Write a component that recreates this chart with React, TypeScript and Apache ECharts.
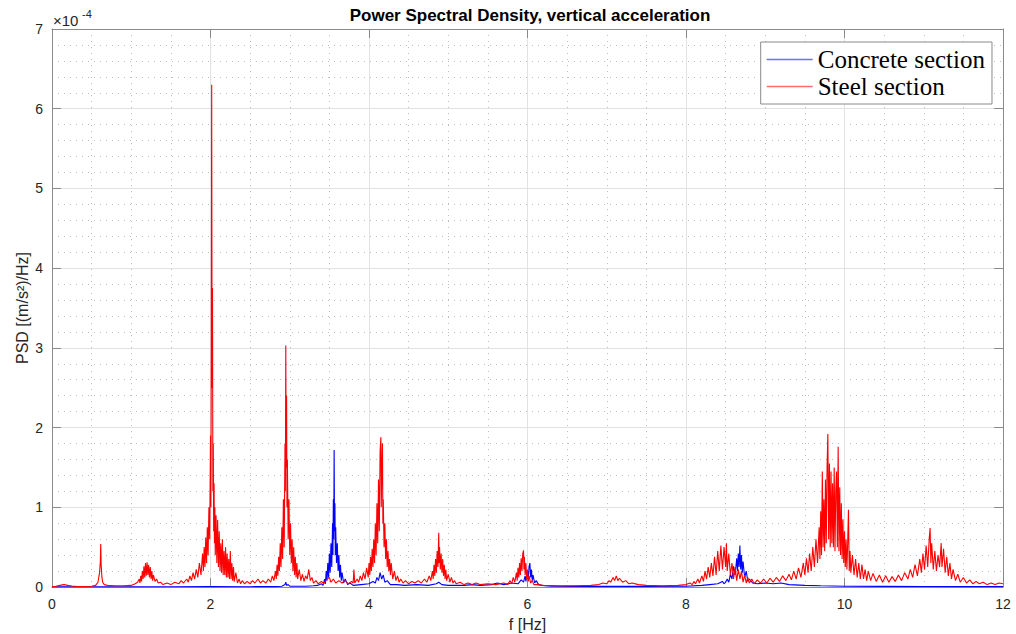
import React, { useEffect, useRef } from "react";
import * as echarts from "echarts";

// [frequency (Hz), PSD (x1e-4 (m/s^2)^2/Hz)]
const steelSpectrum: number[][] = [
  [0,0.005],[0.05,0.01],[0.1,0.02],[0.15,0.03],[0.2,0.02],[0.25,0.012],[0.3,0.008],[0.4,0.006],[0.5,0.01],[0.55,0.02],[0.58,0.06],[0.6,0.18],[0.61,0.32],[0.615,0.54],[0.62,0.28],[0.63,0.12],[0.64,0.06],[0.66,0.03],[0.7,0.02],[0.8,0.015],[0.9,0.015],[1.0,0.02],[1.05,0.04],[1.08,0.06],
  [1.1,0.1],[1.11,0.05],[1.12,0.14],[1.13,0.07],[1.14,0.2],[1.15,0.1],[1.16,0.26],[1.17,0.12],[1.18,0.3],[1.19,0.14],[1.2,0.31],[1.21,0.15],[1.22,0.28],[1.23,0.12],[1.24,0.25],[1.25,0.1],[1.26,0.2],[1.27,0.08],[1.28,0.15],[1.3,0.07],[1.32,0.1],[1.34,0.05],[1.37,0.06],[1.4,0.03],[1.45,0.05],[1.5,0.03],[1.55,0.06],[1.6,0.04],[1.63,0.08],[1.66,0.05],
  [1.7,0.1],[1.72,0.06],[1.74,0.14],[1.76,0.08],[1.78,0.18],[1.8,0.1],[1.82,0.22],[1.84,0.12],[1.86,0.3],[1.88,0.15],[1.9,0.42],[1.91,0.2],[1.92,0.5],[1.93,0.25],[1.94,0.62],[1.95,0.3],[1.96,0.75],[1.97,0.4],[1.98,1.0],[1.99,0.6],[2.0,1.9],[2.005,1.0],[2.01,3.0],[2.015,6.3],[2.02,2.5],[2.025,3.75],[2.03,1.2],[2.035,1.8],[2.04,0.7],[2.045,1.3],[2.05,0.55],[2.055,1.0],[2.06,0.4],[2.07,0.9],[2.08,0.3],[2.09,0.84],[2.1,0.25],[2.11,0.7],[2.12,0.2],[2.13,0.55],[2.14,0.18],[2.15,0.6],[2.16,0.15],[2.17,0.45],[2.18,0.15],[2.19,0.5],[2.2,0.12],[2.21,0.42],[2.22,0.12],[2.23,0.35],[2.24,0.1],[2.25,0.45],[2.26,0.1],[2.27,0.3],[2.28,0.08],[2.29,0.25],[2.3,0.07],[2.32,0.18],[2.34,0.05],[2.36,0.1],[2.38,0.04],[2.4,0.08],[2.43,0.04],[2.46,0.07],[2.5,0.04],[2.53,0.08],[2.56,0.05],[2.6,0.1],[2.63,0.05],[2.66,0.08],[2.7,0.05],[2.73,0.1],[2.76,0.06],
  [2.78,0.14],[2.8,0.08],[2.82,0.2],[2.83,0.1],[2.84,0.28],[2.85,0.14],[2.86,0.38],[2.87,0.2],[2.88,0.55],[2.89,0.25],[2.9,0.75],[2.91,0.35],[2.92,1.1],[2.93,0.5],[2.94,1.8],[2.945,1.2],[2.95,3.03],[2.955,1.5],[2.96,2.4],[2.965,1.0],[2.97,1.6],[2.98,0.6],[2.99,1.1],[3.0,0.4],[3.01,0.8],[3.02,0.3],[3.03,0.6],[3.04,0.2],[3.05,0.5],[3.06,0.15],[3.07,0.38],[3.08,0.12],[3.09,0.3],[3.1,0.1],[3.12,0.22],[3.14,0.08],[3.16,0.16],[3.18,0.07],[3.2,0.14],[3.22,0.1],[3.24,0.22],[3.26,0.08],[3.28,0.12],[3.3,0.05],[3.33,0.08],[3.36,0.04],[3.4,0.07],[3.43,0.04],[3.46,0.09],[3.5,0.12],[3.52,0.06],[3.55,0.1],[3.58,0.05],[3.62,0.08],[3.66,0.05],[3.7,0.08],[3.74,0.04],[3.78,0.07],[3.8,0.05],[3.81,0.22],[3.82,0.05],
  [3.85,0.1],[3.87,0.06],[3.89,0.14],[3.91,0.08],[3.93,0.18],[3.95,0.1],[3.97,0.24],[3.99,0.12],[4.0,0.3],[4.01,0.15],[4.02,0.38],[4.03,0.2],[4.04,0.48],[4.05,0.25],[4.06,0.6],[4.07,0.3],[4.08,0.8],[4.09,0.4],[4.1,1.05],[4.11,0.55],[4.12,1.35],[4.13,0.7],[4.14,1.7],[4.15,1.88],[4.155,1.0],[4.16,1.4],[4.17,1.8],[4.175,0.8],[4.18,1.1],[4.19,0.5],[4.2,0.8],[4.21,0.35],[4.22,0.6],[4.23,0.25],[4.24,0.45],[4.25,0.2],[4.26,0.35],[4.27,0.15],[4.28,0.3],[4.3,0.1],[4.32,0.2],[4.34,0.08],[4.36,0.14],[4.38,0.06],[4.4,0.1],[4.43,0.05],[4.46,0.08],[4.5,0.04],[4.54,0.07],[4.58,0.05],[4.62,0.08],[4.66,0.05],[4.7,0.1],[4.73,0.06],[4.76,0.14],[4.78,0.08],
  [4.8,0.2],[4.81,0.1],[4.82,0.28],[4.83,0.14],[4.84,0.35],[4.85,0.18],[4.86,0.45],[4.87,0.25],[4.88,0.68],[4.885,0.3],[4.89,0.5],[4.9,0.22],[4.91,0.42],[4.92,0.18],[4.93,0.35],[4.94,0.14],[4.95,0.28],[4.96,0.1],[4.97,0.22],[4.98,0.08],[5.0,0.16],[5.02,0.06],[5.04,0.12],[5.06,0.05],[5.08,0.08],[5.1,0.04],[5.15,0.06],[5.2,0.03],[5.25,0.05],[5.3,0.03],[5.35,0.05],[5.4,0.03],[5.5,0.04],[5.6,0.03],[5.7,0.05],[5.75,0.03],
  [5.78,0.08],[5.8,0.04],[5.82,0.12],[5.84,0.06],[5.86,0.18],[5.87,0.08],[5.88,0.24],[5.89,0.12],[5.9,0.3],[5.91,0.15],[5.92,0.36],[5.93,0.2],[5.94,0.42],[5.95,0.46],[5.955,0.22],[5.96,0.38],[5.97,0.15],[5.98,0.3],[5.99,0.1],[6.0,0.22],[6.01,0.07],[6.02,0.14],[6.04,0.05],[6.06,0.08],[6.08,0.03],[6.12,0.03],[6.2,0.02],[6.4,0.015],[6.6,0.015],[6.8,0.02],[6.9,0.03],[6.95,0.05],[7.0,0.04],[7.03,0.08],[7.05,0.06],[7.08,0.12],[7.1,0.08],[7.12,0.14],[7.14,0.08],[7.16,0.11],[7.2,0.06],[7.24,0.08],[7.28,0.04],[7.32,0.05],[7.4,0.03],[7.5,0.02],[7.7,0.015],[7.9,0.02],
  [8.0,0.03],[8.05,0.05],[8.08,0.03],[8.1,0.07],[8.12,0.04],[8.15,0.1],[8.17,0.05],[8.2,0.14],[8.22,0.07],[8.24,0.2],[8.26,0.1],[8.28,0.25],[8.3,0.12],[8.32,0.3],[8.34,0.14],[8.36,0.38],[8.38,0.15],[8.4,0.45],[8.42,0.2],[8.44,0.52],[8.46,0.22],[8.48,0.5],[8.5,0.25],[8.51,0.55],[8.52,0.2],[8.54,0.42],[8.56,0.15],[8.58,0.3],[8.6,0.1],[8.62,0.25],[8.64,0.08],[8.66,0.22],[8.68,0.1],[8.7,0.2],[8.72,0.06],[8.74,0.15],[8.76,0.05],[8.78,0.12],[8.8,0.05],[8.83,0.1],[8.86,0.04],[8.9,0.09],[8.94,0.05],[8.98,0.1],[9.02,0.05],[9.06,0.11],[9.1,0.06],[9.14,0.12],[9.18,0.07],[9.22,0.14],[9.26,0.08],[9.3,0.16],[9.33,0.09],[9.36,0.2],[9.39,0.1],[9.42,0.24],[9.45,0.12],[9.48,0.3],[9.5,0.15],[9.52,0.36],[9.54,0.18],[9.56,0.42],[9.58,0.2],[9.6,0.5],[9.62,0.25],[9.64,0.6],[9.66,0.3],[9.68,0.75],[9.69,0.35],
  [9.7,0.95],[9.71,0.4],[9.72,1.45],[9.73,0.5],[9.74,1.1],[9.75,0.45],[9.76,1.35],[9.77,0.55],[9.78,1.5],[9.79,1.92],[9.8,0.6],[9.81,1.55],[9.82,0.5],[9.83,1.45],[9.84,0.55],[9.85,1.3],[9.86,0.5],[9.87,1.5],[9.88,0.45],[9.89,1.2],[9.9,1.45],[9.91,0.5],[9.92,1.76],[9.93,0.45],[9.94,1.25],[9.95,0.4],[9.96,1.05],[9.97,0.35],[9.98,0.85],[9.99,0.3],[10.0,0.7],[10.01,0.25],[10.02,0.6],[10.03,0.22],[10.04,0.55],[10.05,0.97],[10.06,0.2],[10.07,0.45],[10.08,0.18],[10.1,0.4],[10.12,0.15],[10.14,0.35],[10.16,0.12],[10.18,0.3],[10.2,0.1],[10.22,0.28],[10.24,0.1],[10.26,0.22],[10.28,0.08],[10.3,0.2],[10.33,0.08],[10.36,0.17],[10.4,0.07],[10.44,0.15],[10.48,0.06],[10.52,0.14],[10.56,0.06],[10.6,0.13],[10.64,0.07],[10.68,0.15],[10.72,0.08],[10.76,0.18],[10.8,0.1],
  [10.83,0.22],[10.86,0.12],[10.89,0.28],[10.92,0.14],[10.95,0.35],[10.97,0.18],[10.99,0.42],[11.01,0.22],[11.03,0.52],[11.05,0.25],[11.07,0.62],[11.08,0.74],[11.09,0.3],[11.1,0.55],[11.12,0.22],[11.14,0.45],[11.16,0.2],[11.18,0.4],[11.2,0.25],[11.22,0.55],[11.23,0.25],[11.25,0.48],[11.27,0.18],[11.29,0.38],[11.31,0.14],[11.33,0.3],[11.35,0.1],[11.37,0.22],[11.4,0.08],[11.43,0.16],[11.46,0.06],[11.5,0.12],[11.54,0.05],[11.58,0.09],[11.62,0.04],[11.66,0.07],[11.7,0.04],[11.75,0.06],[11.8,0.03],[11.85,0.05],[11.9,0.03],[11.95,0.05],[12.0,0.04]
];

const concreteSpectrum: number[][] = [
  [0,0.002],[0.5,0.002],[1.0,0.002],[1.5,0.003],[2.0,0.005],[2.5,0.004],[2.8,0.005],[2.9,0.01],[2.94,0.03],[2.95,0.06],[2.96,0.02],[2.98,0.03],[3.0,0.01],[3.2,0.01],[3.3,0.015],[3.35,0.02],
  [3.4,0.04],[3.42,0.02],[3.44,0.1],[3.45,0.04],[3.46,0.2],[3.47,0.08],[3.48,0.3],[3.49,0.12],[3.5,0.42],[3.51,0.18],[3.52,0.55],[3.53,0.25],[3.54,0.8],[3.545,0.4],[3.55,1.1],[3.555,0.6],[3.56,1.72],[3.565,0.7],[3.57,1.05],[3.575,0.4],[3.58,0.75],[3.59,0.3],[3.6,0.55],[3.61,0.2],[3.62,0.4],[3.63,0.12],[3.64,0.28],[3.65,0.08],[3.66,0.18],[3.68,0.05],[3.7,0.1],[3.73,0.03],[3.76,0.05],[3.8,0.02],[3.9,0.03],
  [4.0,0.04],[4.05,0.07],[4.08,0.05],[4.1,0.12],[4.12,0.08],[4.14,0.18],[4.16,0.1],[4.18,0.15],[4.2,0.06],[4.23,0.08],[4.27,0.03],[4.35,0.03],[4.45,0.02],[4.6,0.03],[4.75,0.02],[4.85,0.04],[4.88,0.06],[4.92,0.03],[5.0,0.02],[5.2,0.02],[5.3,0.03],[5.4,0.02],[5.55,0.03],[5.62,0.05],[5.7,0.03],[5.8,0.05],[5.88,0.04],[5.92,0.09],
  [5.95,0.06],[5.97,0.14],[5.98,0.07],[6.0,0.2],[6.01,0.1],[6.02,0.26],[6.03,0.3],[6.04,0.12],[6.05,0.22],[6.06,0.08],[6.07,0.15],[6.09,0.05],[6.11,0.08],[6.14,0.03],[6.18,0.02],[6.3,0.01],[6.6,0.008],[7.0,0.008],[7.5,0.008],[8.0,0.01],[8.2,0.02],[8.3,0.03],[8.4,0.04],[8.46,0.07],[8.48,0.04],
  [8.5,0.06],[8.52,0.1],[8.54,0.06],[8.56,0.16],[8.58,0.1],[8.6,0.26],[8.62,0.15],[8.64,0.36],[8.65,0.2],[8.66,0.42],[8.67,0.25],[8.68,0.52],[8.69,0.22],[8.7,0.4],[8.71,0.18],[8.72,0.32],[8.74,0.12],[8.76,0.2],[8.78,0.07],[8.8,0.1],[8.84,0.05],[8.9,0.04],[9.0,0.05],[9.1,0.04],[9.2,0.05],[9.3,0.03],[9.5,0.02],[9.7,0.015],[10.0,0.01],[10.5,0.008],[11.0,0.006],[11.5,0.005],[12.0,0.005]
];

const seriesNames = ["Concrete section", "Steel section"];
const seriesColors = ["#0000ff", "#ff0000"];
const yTicks = [0, 1, 2, 3, 4, 5, 6, 7];
const xTicks = [0, 2, 4, 6, 8, 10, 12];

const FONT = "'Liberation Sans', Arial, Helvetica, sans-serif";
const AXIS_GRAY = "#8a8a8a";
const TEXT = "#262626";

export default function App() {
  const ref = useRef<HTMLDivElement>(null);
  useEffect(() => {
    if (!ref.current) return;
    const chart = echarts.init(ref.current, undefined, { renderer: "svg" });
    const xCommon = {
      type: "value" as const,
      min: xTicks[0],
      max: xTicks[xTicks.length - 1],
      interval: 2,
      axisLine: { show: true, onZero: false, lineStyle: { color: AXIS_GRAY, width: 1 } },
      axisTick: { show: true, inside: true, length: 9, lineStyle: { color: AXIS_GRAY } },
    };
    const yCommon = {
      type: "value" as const,
      min: yTicks[0],
      max: yTicks[yTicks.length - 1],
      interval: 1,
      axisLine: { show: true, onZero: false, lineStyle: { color: AXIS_GRAY, width: 1 } },
      axisTick: { show: true, inside: true, length: 9, lineStyle: { color: AXIS_GRAY } },
    };
    chart.setOption({
      animation: false,
      backgroundColor: "#ffffff",
      grid: { left: 52, top: 29, right: 13, bottom: 47, containLabel: false, outerBoundsMode: "none" },
      xAxis: [
        {
          ...xCommon,
          position: "bottom",
          name: "f [Hz]",
          nameLocation: "middle",
          nameGap: 29,
          nameTextStyle: { fontFamily: FONT, fontSize: 16, color: TEXT },
          axisLabel: { fontFamily: FONT, fontSize: 14, color: TEXT, margin: 10 },
          splitLine: { show: true, lineStyle: { color: "#e2e2e2", width: 1 } },
          minorTick: { show: true, splitNumber: 4, length: 0, lineStyle: { opacity: 0 } },
          minorSplitLine: { show: true, lineStyle: { color: "#bdbdbd", width: 1, type: [1, 5] } },
        },
        {
          ...xCommon,
          position: "top",
          axisLabel: { show: false },
          splitLine: { show: false },
        },
      ],
      yAxis: [
        {
          ...yCommon,
          position: "left",
          name: "PSD [(m/s²)/Hz]",
          nameLocation: "middle",
          nameGap: 22,
          nameMoveOverlap: false,
          nameRotate: 90,
          nameTextStyle: { fontFamily: FONT, fontSize: 16, color: TEXT },
          axisLabel: { fontFamily: FONT, fontSize: 14, color: TEXT, margin: 9 },
          splitLine: { show: true, lineStyle: { color: "#e2e2e2", width: 1 } },
          minorTick: { show: true, splitNumber: 5, length: 0, lineStyle: { opacity: 0 } },
          minorSplitLine: { show: true, lineStyle: { color: "#bdbdbd", width: 1, type: [1, 5] } },
        },
        {
          ...yCommon,
          position: "right",
          axisLabel: { show: false },
          splitLine: { show: false },
        },
      ],
      legend: {
        orient: "vertical",
        right: 24,
        top: 42,
        padding: [4, 7, 4, 6],
        itemGap: 0,
        itemWidth: 46,
        itemHeight: 1.5,
        icon: "rect",
        backgroundColor: "#ffffff",
        borderColor: "#8a8a8a",
        borderWidth: 1,
        textStyle: { fontFamily: "'Liberation Serif', 'Times New Roman', serif", fontSize: 25, color: "#000", lineHeight: 27 },
        data: [
          { name: seriesNames[0], itemStyle: { color: "#6e6eff" } },
          { name: seriesNames[1], itemStyle: { color: "#ff6e6e" } },
        ],
      },
      series: [
        {
          name: seriesNames[0],
          type: "line",
          data: concreteSpectrum,
          showSymbol: false,
          symbol: "none",
          lineStyle: { color: seriesColors[0], width: 1.1 },
          itemStyle: { color: seriesColors[0] },
          z: 2,
        },
        {
          name: seriesNames[1],
          type: "line",
          data: steelSpectrum,
          showSymbol: false,
          symbol: "none",
          lineStyle: { color: seriesColors[1], width: 1.1 },
          itemStyle: { color: seriesColors[1] },
          z: 3,
        },
      ],
      graphic: [
        {
          type: "text",
          x: 530,
          y: 15,
          style: {
            text: "Power Spectral Density, vertical acceleration",
            font: "bold 17px " + FONT,
            fill: "#000",
            align: "center",
            verticalAlign: "middle",
          },
        },
        {
          type: "text",
          x: 53,
          y: 20,
          style: { text: "×10", font: "15px " + FONT, fill: TEXT, align: "left", verticalAlign: "middle" },
        },
        {
          type: "text",
          x: 82,
          y: 14,
          style: { text: "-4", font: "11px " + FONT, fill: TEXT, align: "left", verticalAlign: "middle" },
        },
      ],
    });
    return () => chart.dispose();
  }, []);
  return (
    <div
      ref={ref}
      style={{ position: "fixed", left: 0, top: 0, width: 1016, height: 634, background: "#fff" }}
    />
  );
}
